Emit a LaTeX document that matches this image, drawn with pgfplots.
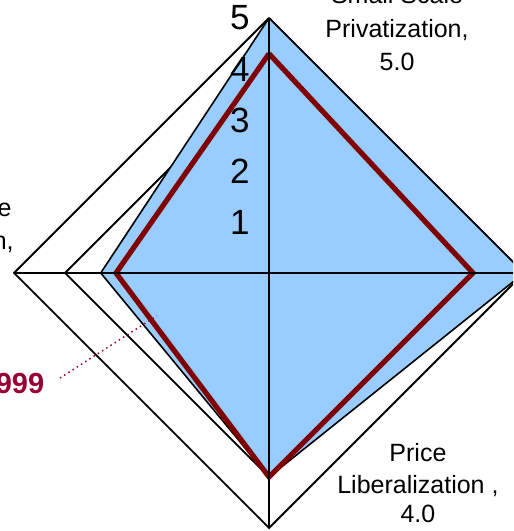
\documentclass[border=0pt]{standalone}
\usepackage{fontspec}
\setmainfont{Liberation Sans}
\usepackage{pgfplots}
\pgfplotsset{compat=1.18}
\definecolor{fillblue}{HTML}{99CCFF}
\definecolor{maroon}{HTML}{800000}
\definecolor{labelred}{HTML}{990033}

\begin{document}
\begin{tikzpicture}
\begin{axis}[
    scale only axis,
    width=256.5pt, height=265.5pt,
    xmin=-5.275, xmax=4.784,
    ymin=-5.059, ymax=5.353,
    hide axis,
    clip=true,
    data cs=polar,
]
    % grid rings (angle, value)
    \foreach \r in {1,2,3,4,5} {
        \edef\ring{\noexpand\addplot[black, line width=0.9pt, forget plot] coordinates {(90,\r) (0,\r) (270,\r) (180,\r) (90,\r)};}
        \ring
    }
    % 1998 -- filled series
    \addplot[draw=black, line width=0.8pt, fill=fillblue] coordinates {
        (90,5.0) (0,5.0) (270,4.0) (180,3.3) (90,5.0)
    };
    % 1999 -- line series
    \addplot[maroon, line width=2.6pt, line join=miter] coordinates {
        (90,4.3) (0,4.0) (270,4.0) (180,3.0) (90,4.3)
    };
    % spokes
    \addplot[black, line width=0.9pt] coordinates {(0,5) (180,5)};
    \addplot[black, line width=0.9pt] coordinates {(90,5) (270,5)};
\end{axis}
\begin{axis}[
    scale only axis,
    width=256.5pt, height=265.5pt,
    xmin=-5.275, xmax=4.784,
    ymin=-5.059, ymax=5.353,
    hide axis, clip=false,
]
    % value labels on the vertical axis
    \foreach \k in {1,2,3,4,5} {
        \edef\lab{\noexpand\node[font=\noexpand\fontsize{17.5}{20}\noexpand\selectfont, inner sep=0pt] at (axis cs:-0.57,\k) {\k};}
        \lab
    }
    % category labels
    \node[anchor=base, inner sep=0pt, font=\fontsize{12.5}{16.5}\selectfont] at (axis cs:2.51,5.275) {Small Scale};
    \node[anchor=base, inner sep=0pt, font=\fontsize{12.5}{16.5}\selectfont] at (axis cs:2.51,4.627) {Privatization,};
    \node[anchor=base, inner sep=0pt, font=\fontsize{12.5}{16.5}\selectfont] at (axis cs:2.51,3.98) {5.0};
    \node[anchor=base, inner sep=0pt, font=\fontsize{12.5}{16.5}\selectfont] at (axis cs:2.92,-3.706) {Price};
    \node[anchor=base, inner sep=0pt, font=\fontsize{12.5}{16.5}\selectfont] at (axis cs:2.92,-4.333) {Liberalization ,};
    \node[anchor=base, inner sep=0pt, font=\fontsize{12.5}{16.5}\selectfont] at (axis cs:2.92,-4.902) {4.0};
    \node[anchor=base east, inner sep=0pt, font=\fontsize{12.5}{16.5}\selectfont] at (axis cs:-5.04,1.098) {Large Scale};
    \node[anchor=base east, inner sep=0pt, font=\fontsize{12.5}{16.5}\selectfont] at (axis cs:-5.0,0.47) {Privatization,};
    % series label with leader
    \draw[labelred, line width=0.75pt, dash pattern=on 0.75pt off 1.75pt] (axis cs:-4.10,-2.06) -- (axis cs:-2.20,-0.84);
    \node[anchor=base east, inner sep=0pt, text=labelred, font=\bfseries\fontsize{14.5}{17}\selectfont] at (axis cs:-4.40,-2.36) {1999};
\end{axis}
\pgfresetboundingbox
\path[use as bounding box] (current axis.south west) rectangle (current axis.north east);
\end{tikzpicture}
\end{document}
